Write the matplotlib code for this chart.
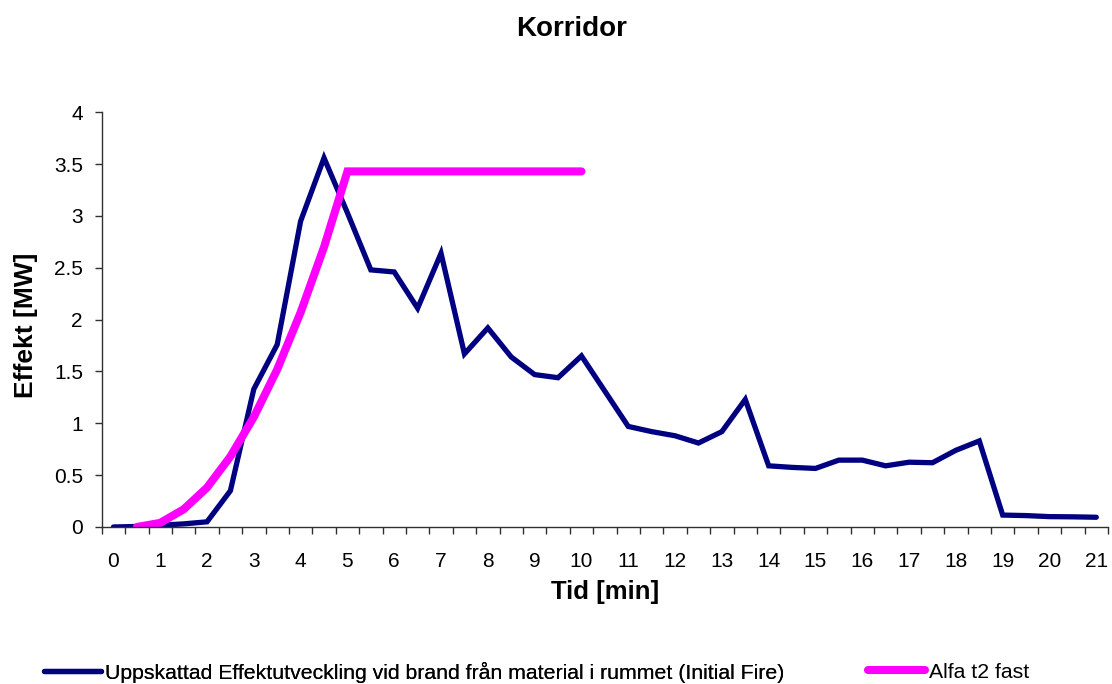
import numpy as np
import matplotlib.pyplot as plt
from matplotlib.ticker import FixedLocator, NullFormatter

plt.rcParams['font.family'] = ['Liberation Sans', 'DejaVu Sans']

W, H = 1112, 684

# tid i minuter, en kategori per halv minut
tid = [i * 0.5 for i in range(43)]
tick_labels = [str(i) for i in range(22)]

initial_fire = [0, 0.005, 0.017, 0.03, 0.05, 0.35, 1.33, 1.76, 2.95, 3.56,
                3.03, 2.48, 2.46, 2.11, 2.64, 1.67, 1.92, 1.64, 1.47, 1.44,
                1.65, 1.31, 0.97, 0.92, 0.88, 0.81, 0.92, 1.23, 0.59, 0.575,
                0.565, 0.645, 0.645, 0.59, 0.625, 0.62, 0.74, 0.83, 0.115, 0.11,
                0.10, 0.098, 0.094]

# alfa t2 fast, startar vid 0.5 min
alfa_tid = [i * 0.5 for i in range(1, 21)]
alfa_fast = [0, 0.04, 0.17, 0.38, 0.68, 1.06, 1.52, 2.07, 2.70, 3.43,
             3.43, 3.43, 3.43, 3.43, 3.43, 3.43, 3.43, 3.43, 3.43, 3.43]

legend_labels = ['Uppskattad Effektutveckling vid brand från material i rummet (Initial Fire)',
                 'Alfa t2 fast']

fig = plt.figure(figsize=(W / 100, H / 100), dpi=100)
ax = fig.add_axes([101.7 / W, 1 - 527 / H, (1108 - 101.7) / W, (527 - 112.3) / H])

x1 = [t * 2 for t in tid]
x2 = [t * 2 for t in alfa_tid]
l1, = ax.plot(x1, initial_fire, color='#000080', lw=3.8, solid_capstyle='round', solid_joinstyle='miter')
l2, = ax.plot(x2, alfa_fast, color='#FF00FF', lw=5.8, solid_capstyle='round', solid_joinstyle='miter')

ax.set_xlim(-0.5, 42.5)
ax.set_ylim(0, 4)
for s in ['top', 'right']:
    ax.spines[s].set_visible(False)
for s in ['left', 'bottom']:
    ax.spines[s].set_color('#303030')
    ax.spines[s].set_linewidth(1.0)

ax.set_yticks(np.arange(0, 4.01, 0.5))
ax.set_yticklabels(['0', '0.5', '1', '1.5', '2', '2.5', '3', '3.5', '4'])
ax.tick_params(axis='y', direction='out', length=5, width=1, color='#303030', labelsize=15, pad=8.5)

ax.set_xticks(np.arange(0, 43, 2))
ax.set_xticklabels(tick_labels)
ax.xaxis.set_minor_locator(FixedLocator(np.arange(-0.5, 43, 1)))
ax.xaxis.set_minor_formatter(NullFormatter())
ax.tick_params(axis='x', which='major', length=0, labelsize=15, pad=18)
ax.tick_params(axis='x', which='minor', direction='out', length=5, width=1, color='#303030')

fig.text(605 / W, 1 - 592 / H, 'Tid [min]', ha='center', va='center', fontsize=18.5, fontweight='bold')
fig.text(26 / W, 1 - 325 / H, 'Effekt [MW]', ha='center', va='center', rotation=90,
         fontsize=19, fontweight='bold')
fig.text(572 / W, 1 - 29 / H, 'Korridor', ha='center', va='center', fontsize=20, fontweight='bold')

leg1 = fig.legend([l1], legend_labels[:1], loc='center left', bbox_to_anchor=(44 / W, 1 - 672 / H),
                  frameon=False, fontsize=15.3, handlelength=2.7, handletextpad=0.15,
                  borderpad=0, borderaxespad=0)
leg2 = fig.legend([l2], legend_labels[1:], loc='center left', bbox_to_anchor=(868 / W, 1 - 672 / H),
                  frameon=False, fontsize=15.3, handlelength=2.7, handletextpad=0.15,
                  borderpad=0, borderaxespad=0)
fig.add_artist(leg1)

fig.savefig('out.png', dpi=100)
